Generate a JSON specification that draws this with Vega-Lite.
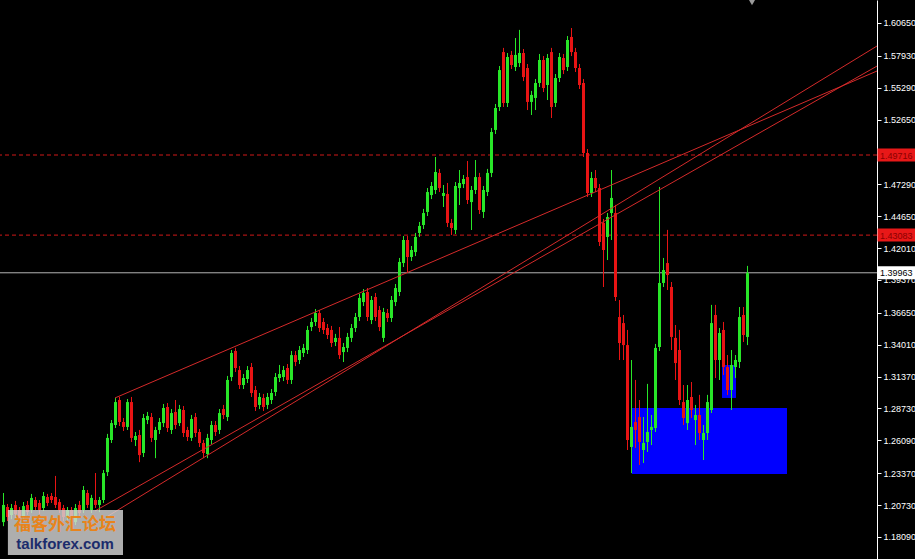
{
"$schema": "https://vega.github.io/schema/vega-lite/v6.json",
"width": 877, "height": 559,
"autosize": {"type": "none"},
"padding": {"left": 0, "top": 0, "right": 38, "bottom": 0},
"background": "#000000",
"config": {"view": {"stroke": null}},
"resolve": {"axis": {"x": "independent", "y": "independent"}},
"datasets": {
"candles": [
{"t":0,"o":1.1932,"h":1.2173,"l":1.1899,"c":1.2074},
{"t":1,"o":1.2057,"h":1.2082,"l":1.1941,"c":1.1974},
{"t":2,"o":1.1991,"h":1.2082,"l":1.1957,"c":1.2049},
{"t":3,"o":1.2074,"h":1.2107,"l":1.1966,"c":1.1999},
{"t":4,"o":1.2032,"h":1.2057,"l":1.1932,"c":1.1966},
{"t":5,"o":1.1982,"h":1.2098,"l":1.1949,"c":1.2065},
{"t":6,"o":1.2074,"h":1.2107,"l":1.1991,"c":1.2015},
{"t":7,"o":1.2032,"h":1.2165,"l":1.2007,"c":1.2132},
{"t":8,"o":1.2115,"h":1.2140,"l":1.2032,"c":1.2057},
{"t":9,"o":1.2090,"h":1.2115,"l":1.1999,"c":1.2032},
{"t":10,"o":1.2049,"h":1.2181,"l":1.2024,"c":1.2148},
{"t":11,"o":1.2140,"h":1.2165,"l":1.2065,"c":1.2090},
{"t":12,"o":1.2148,"h":1.2173,"l":1.2090,"c":1.2115},
{"t":13,"o":1.2140,"h":1.2314,"l":1.2049,"c":1.2074},
{"t":14,"o":1.2098,"h":1.2123,"l":1.2007,"c":1.2032},
{"t":15,"o":1.2049,"h":1.2074,"l":1.1941,"c":1.1974},
{"t":16,"o":1.1974,"h":1.2057,"l":1.1949,"c":1.2032},
{"t":17,"o":1.2032,"h":1.2057,"l":1.1916,"c":1.1949},
{"t":18,"o":1.1932,"h":1.2082,"l":1.1908,"c":1.2049},
{"t":19,"o":1.2074,"h":1.2107,"l":1.1982,"c":1.2007},
{"t":20,"o":1.2032,"h":1.2231,"l":1.2007,"c":1.2198},
{"t":21,"o":1.2173,"h":1.2198,"l":1.2049,"c":1.2074},
{"t":22,"o":1.2032,"h":1.2157,"l":1.2007,"c":1.2132},
{"t":23,"o":1.2115,"h":1.2338,"l":1.2049,"c":1.2074},
{"t":24,"o":1.2074,"h":1.2140,"l":1.2015,"c":1.2115},
{"t":25,"o":1.2115,"h":1.2363,"l":1.2090,"c":1.2338},
{"t":26,"o":1.2346,"h":1.2662,"l":1.2314,"c":1.2629},
{"t":27,"o":1.2612,"h":1.2777,"l":1.2587,"c":1.2752},
{"t":28,"o":1.2736,"h":1.2960,"l":1.2711,"c":1.2926},
{"t":29,"o":1.2943,"h":1.2968,"l":1.2728,"c":1.2761},
{"t":30,"o":1.2761,"h":1.2794,"l":1.2687,"c":1.2720},
{"t":31,"o":1.2720,"h":1.2951,"l":1.2695,"c":1.2926},
{"t":32,"o":1.2926,"h":1.2968,"l":1.2595,"c":1.2629},
{"t":33,"o":1.2612,"h":1.2678,"l":1.2562,"c":1.2645},
{"t":34,"o":1.2653,"h":1.2695,"l":1.2429,"c":1.2487},
{"t":35,"o":1.2504,"h":1.2827,"l":1.2471,"c":1.2794},
{"t":36,"o":1.2777,"h":1.2844,"l":1.2744,"c":1.2811},
{"t":37,"o":1.2802,"h":1.2835,"l":1.2595,"c":1.2629},
{"t":38,"o":1.2612,"h":1.2720,"l":1.2462,"c":1.2695},
{"t":39,"o":1.2695,"h":1.2794,"l":1.2662,"c":1.2761},
{"t":40,"o":1.2752,"h":1.2910,"l":1.2720,"c":1.2877},
{"t":41,"o":1.2885,"h":1.2918,"l":1.2678,"c":1.2711},
{"t":42,"o":1.2695,"h":1.2868,"l":1.2662,"c":1.2835},
{"t":43,"o":1.2844,"h":1.2943,"l":1.2703,"c":1.2736},
{"t":44,"o":1.2752,"h":1.2902,"l":1.2728,"c":1.2868},
{"t":45,"o":1.2860,"h":1.2893,"l":1.2637,"c":1.2670},
{"t":46,"o":1.2695,"h":1.2720,"l":1.2604,"c":1.2637},
{"t":47,"o":1.2629,"h":1.2819,"l":1.2604,"c":1.2786},
{"t":48,"o":1.2802,"h":1.2835,"l":1.2637,"c":1.2670},
{"t":49,"o":1.2678,"h":1.2703,"l":1.2554,"c":1.2587},
{"t":50,"o":1.2587,"h":1.2612,"l":1.2462,"c":1.2504},
{"t":51,"o":1.2496,"h":1.2662,"l":1.2462,"c":1.2629},
{"t":52,"o":1.2612,"h":1.2769,"l":1.2579,"c":1.2736},
{"t":53,"o":1.2736,"h":1.2769,"l":1.2645,"c":1.2678},
{"t":54,"o":1.2695,"h":1.2868,"l":1.2662,"c":1.2835},
{"t":55,"o":1.2868,"h":1.2902,"l":1.2786,"c":1.2819},
{"t":56,"o":1.2802,"h":1.3142,"l":1.2769,"c":1.3109},
{"t":57,"o":1.3133,"h":1.3357,"l":1.3100,"c":1.3332},
{"t":58,"o":1.3349,"h":1.3374,"l":1.3175,"c":1.3208},
{"t":59,"o":1.3191,"h":1.3224,"l":1.3034,"c":1.3067},
{"t":60,"o":1.3067,"h":1.3158,"l":1.3034,"c":1.3125},
{"t":61,"o":1.3117,"h":1.3224,"l":1.3084,"c":1.3191},
{"t":62,"o":1.3216,"h":1.3249,"l":1.2968,"c":1.3001},
{"t":63,"o":1.3026,"h":1.3059,"l":1.2852,"c":1.2885},
{"t":64,"o":1.2902,"h":1.3001,"l":1.2868,"c":1.2968},
{"t":65,"o":1.2960,"h":1.2993,"l":1.2852,"c":1.2885},
{"t":66,"o":1.2902,"h":1.3001,"l":1.2868,"c":1.2968},
{"t":67,"o":1.2943,"h":1.3034,"l":1.2910,"c":1.3001},
{"t":68,"o":1.3009,"h":1.3166,"l":1.2976,"c":1.3133},
{"t":69,"o":1.3125,"h":1.3233,"l":1.3092,"c":1.3158},
{"t":70,"o":1.3133,"h":1.3224,"l":1.3100,"c":1.3191},
{"t":71,"o":1.3208,"h":1.3241,"l":1.3076,"c":1.3109},
{"t":72,"o":1.3109,"h":1.3349,"l":1.3076,"c":1.3315},
{"t":73,"o":1.3315,"h":1.3349,"l":1.3224,"c":1.3258},
{"t":74,"o":1.3274,"h":1.3390,"l":1.3241,"c":1.3357},
{"t":75,"o":1.3332,"h":1.3407,"l":1.3299,"c":1.3374},
{"t":76,"o":1.3357,"h":1.3556,"l":1.3324,"c":1.3523},
{"t":77,"o":1.3547,"h":1.3622,"l":1.3514,"c":1.3589},
{"t":78,"o":1.3589,"h":1.3696,"l":1.3556,"c":1.3663},
{"t":79,"o":1.3663,"h":1.3688,"l":1.3506,"c":1.3539},
{"t":80,"o":1.3589,"h":1.3622,"l":1.3490,"c":1.3523},
{"t":81,"o":1.3539,"h":1.3572,"l":1.3448,"c":1.3481},
{"t":82,"o":1.3523,"h":1.3556,"l":1.3382,"c":1.3415},
{"t":83,"o":1.3423,"h":1.3490,"l":1.3390,"c":1.3457},
{"t":84,"o":1.3457,"h":1.3547,"l":1.3283,"c":1.3315},
{"t":85,"o":1.3340,"h":1.3415,"l":1.3258,"c":1.3382},
{"t":86,"o":1.3374,"h":1.3498,"l":1.3340,"c":1.3465},
{"t":87,"o":1.3457,"h":1.3572,"l":1.3423,"c":1.3539},
{"t":88,"o":1.3539,"h":1.3663,"l":1.3506,"c":1.3630},
{"t":89,"o":1.3630,"h":1.3821,"l":1.3597,"c":1.3788},
{"t":90,"o":1.3754,"h":1.3862,"l":1.3721,"c":1.3829},
{"t":91,"o":1.3837,"h":1.3870,"l":1.3597,"c":1.3630},
{"t":92,"o":1.3605,"h":1.3804,"l":1.3572,"c":1.3771},
{"t":93,"o":1.3796,"h":1.3829,"l":1.3597,"c":1.3630},
{"t":94,"o":1.3688,"h":1.3721,"l":1.3514,"c":1.3547},
{"t":95,"o":1.3457,"h":1.3705,"l":1.3423,"c":1.3672},
{"t":96,"o":1.3663,"h":1.3696,"l":1.3589,"c":1.3622},
{"t":97,"o":1.3622,"h":1.3804,"l":1.3589,"c":1.3771},
{"t":98,"o":1.3754,"h":1.3903,"l":1.3721,"c":1.3870},
{"t":99,"o":1.3837,"h":1.4119,"l":1.3804,"c":1.4086},
{"t":100,"o":1.4077,"h":1.4301,"l":1.4044,"c":1.4268},
{"t":101,"o":1.4268,"h":1.4301,"l":1.4003,"c":1.4127},
{"t":102,"o":1.4127,"h":1.4218,"l":1.4094,"c":1.4185},
{"t":103,"o":1.4168,"h":1.4326,"l":1.4135,"c":1.4293},
{"t":104,"o":1.4326,"h":1.4417,"l":1.4293,"c":1.4384},
{"t":105,"o":1.4392,"h":1.4525,"l":1.4359,"c":1.4491},
{"t":106,"o":1.4500,"h":1.4698,"l":1.4467,"c":1.4665},
{"t":107,"o":1.4640,"h":1.4748,"l":1.4607,"c":1.4715},
{"t":108,"o":1.4682,"h":1.4955,"l":1.4649,"c":1.4831},
{"t":109,"o":1.4823,"h":1.4856,"l":1.4665,"c":1.4698},
{"t":110,"o":1.4632,"h":1.4723,"l":1.4541,"c":1.4657},
{"t":111,"o":1.4649,"h":1.4740,"l":1.4376,"c":1.4409},
{"t":112,"o":1.4409,"h":1.4442,"l":1.4309,"c":1.4367},
{"t":113,"o":1.4351,"h":1.4748,"l":1.4318,"c":1.4715},
{"t":114,"o":1.4698,"h":1.4847,"l":1.4558,"c":1.4740},
{"t":115,"o":1.4731,"h":1.4806,"l":1.4698,"c":1.4773},
{"t":116,"o":1.4789,"h":1.4922,"l":1.4566,"c":1.4599},
{"t":117,"o":1.4582,"h":1.4715,"l":1.4351,"c":1.4682},
{"t":118,"o":1.4682,"h":1.4930,"l":1.4649,"c":1.4789},
{"t":119,"o":1.4789,"h":1.4823,"l":1.4483,"c":1.4516},
{"t":120,"o":1.4500,"h":1.4715,"l":1.4450,"c":1.4682},
{"t":121,"o":1.4665,"h":1.4856,"l":1.4632,"c":1.4823},
{"t":122,"o":1.4823,"h":1.5195,"l":1.4789,"c":1.5162},
{"t":123,"o":1.5179,"h":1.5394,"l":1.5146,"c":1.5361},
{"t":124,"o":1.5369,"h":1.5708,"l":1.5336,"c":1.5675},
{"t":125,"o":1.5824,"h":1.5858,"l":1.5369,"c":1.5402},
{"t":126,"o":1.5402,"h":1.5816,"l":1.5369,"c":1.5783},
{"t":127,"o":1.5800,"h":1.5833,"l":1.5684,"c":1.5717},
{"t":128,"o":1.5700,"h":1.5940,"l":1.5667,"c":1.5800},
{"t":129,"o":1.5733,"h":1.6007,"l":1.5700,"c":1.5816},
{"t":130,"o":1.5816,"h":1.5849,"l":1.5584,"c":1.5617},
{"t":131,"o":1.5692,"h":1.5725,"l":1.5344,"c":1.5411},
{"t":132,"o":1.5411,"h":1.5502,"l":1.5303,"c":1.5469},
{"t":133,"o":1.5444,"h":1.5601,"l":1.5344,"c":1.5568},
{"t":134,"o":1.5568,"h":1.5808,"l":1.5535,"c":1.5758},
{"t":135,"o":1.5758,"h":1.5791,"l":1.5493,"c":1.5526},
{"t":136,"o":1.5551,"h":1.5808,"l":1.5427,"c":1.5775},
{"t":137,"o":1.5824,"h":1.5858,"l":1.5278,"c":1.5369},
{"t":138,"o":1.5402,"h":1.5642,"l":1.5369,"c":1.5609},
{"t":139,"o":1.5609,"h":1.5816,"l":1.5576,"c":1.5783},
{"t":140,"o":1.5775,"h":1.5808,"l":1.5642,"c":1.5675},
{"t":141,"o":1.5700,"h":1.5957,"l":1.5667,"c":1.5924},
{"t":142,"o":1.5949,"h":1.6023,"l":1.5791,"c":1.5824},
{"t":143,"o":1.5824,"h":1.5858,"l":1.5659,"c":1.5692},
{"t":144,"o":1.5692,"h":1.5725,"l":1.5518,"c":1.5551},
{"t":145,"o":1.5568,"h":1.5601,"l":1.4955,"c":1.4988},
{"t":146,"o":1.4988,"h":1.5021,"l":1.4624,"c":1.4657},
{"t":147,"o":1.4657,"h":1.4831,"l":1.4624,"c":1.4781},
{"t":148,"o":1.4781,"h":1.4847,"l":1.4665,"c":1.4698},
{"t":149,"o":1.4698,"h":1.4731,"l":1.4218,"c":1.4251},
{"t":150,"o":1.4409,"h":1.4442,"l":1.3879,"c":1.4185},
{"t":151,"o":1.4293,"h":1.4491,"l":1.4102,"c":1.4458},
{"t":152,"o":1.4491,"h":1.4847,"l":1.4268,"c":1.4616},
{"t":153,"o":1.4491,"h":1.4558,"l":1.3763,"c":1.3796},
{"t":154,"o":1.3630,"h":1.3771,"l":1.3274,"c":1.3415},
{"t":155,"o":1.3580,"h":1.3647,"l":1.3274,"c":1.3398},
{"t":156,"o":1.3398,"h":1.3523,"l":1.2529,"c":1.2612},
{"t":157,"o":1.2554,"h":1.3274,"l":1.2338,"c":1.2720},
{"t":158,"o":1.2761,"h":1.3109,"l":1.2546,"c":1.2695},
{"t":159,"o":1.2802,"h":1.2943,"l":1.2405,"c":1.2595},
{"t":160,"o":1.2529,"h":1.2802,"l":1.2421,"c":1.2587},
{"t":161,"o":1.2595,"h":1.3076,"l":1.2513,"c":1.2678},
{"t":162,"o":1.2695,"h":1.2819,"l":1.2570,"c":1.2720},
{"t":163,"o":1.2711,"h":1.3407,"l":1.2678,"c":1.3374},
{"t":164,"o":1.3382,"h":1.4707,"l":1.3349,"c":1.3912},
{"t":165,"o":1.3912,"h":1.4119,"l":1.3879,"c":1.4019},
{"t":166,"o":1.4077,"h":1.4351,"l":1.3854,"c":1.3978},
{"t":167,"o":1.3879,"h":1.3920,"l":1.3357,"c":1.3465},
{"t":168,"o":1.3457,"h":1.3564,"l":1.3109,"c":1.3249},
{"t":169,"o":1.3357,"h":1.3523,"l":1.2902,"c":1.2943},
{"t":170,"o":1.2926,"h":1.3067,"l":1.2736,"c":1.2794},
{"t":171,"o":1.2752,"h":1.3067,"l":1.2695,"c":1.2943},
{"t":172,"o":1.2968,"h":1.3092,"l":1.2794,"c":1.2860},
{"t":173,"o":1.2777,"h":1.2902,"l":1.2570,"c":1.2819},
{"t":174,"o":1.2819,"h":1.2985,"l":1.2612,"c":1.2670},
{"t":175,"o":1.2612,"h":1.2736,"l":1.2446,"c":1.2670},
{"t":176,"o":1.2670,"h":1.2985,"l":1.2612,"c":1.2926},
{"t":177,"o":1.2860,"h":1.3730,"l":1.2835,"c":1.3580},
{"t":178,"o":1.3647,"h":1.3730,"l":1.3125,"c":1.3274},
{"t":179,"o":1.3274,"h":1.3539,"l":1.3109,"c":1.3498},
{"t":180,"o":1.3523,"h":1.3589,"l":1.3150,"c":1.3216},
{"t":181,"o":1.3216,"h":1.3315,"l":1.2985,"c":1.3026},
{"t":182,"o":1.3026,"h":1.3357,"l":1.2860,"c":1.3233},
{"t":183,"o":1.3216,"h":1.3315,"l":1.3125,"c":1.3274},
{"t":184,"o":1.3258,"h":1.3713,"l":1.3208,"c":1.3630},
{"t":185,"o":1.3647,"h":1.3713,"l":1.3423,"c":1.3481},
{"t":186,"o":1.3465,"h":1.4053,"l":1.3398,"c":1.3995}
],
"trendlines": [
{"name":"upper","t1":27.875,"p1":1.2960,"t2":218.375,"p2":1.5667},
{"name":"lower1","t1":22.875,"p1":1.2024,"t2":218.375,"p2":1.5708},
{"name":"lower2","t1":26.125,"p1":1.1982,"t2":218.375,"p2":1.5874}
],
"zones": [
{"name":"demand","t1":157.125,"t2":195.875,"p1":1.2877,"p2":1.2330},
{"name":"small","t1":179.625,"t2":183.125,"p1":1.3233,"p2":1.2960}
],
"levels": [
{"v":1.49716,"kind":"level"},
{"v":1.43083,"kind":"level"},
{"v":1.39963,"kind":"bid"}
]
},
"layer": [
{
"data": {"name": "candles"},
"mark": {"type": "rule", "strokeWidth": 1},
"encoding": {
"x": {"field": "t", "type": "quantitative", "scale": {"domain": [-0.875, 218.375], "nice": false, "zero": false, "padding": 0}, "axis": null},
"y": {"field": "l", "type": "quantitative", "title": null,
"scale": {"domain": [1.16265, 1.6255], "nice": false, "zero": false, "padding": 0},
"axis": {"orient": "right", "values": [1.6065, 1.5793, 1.5529, 1.5265, 1.4729, 1.4465, 1.4201, 1.3937, 1.3665, 1.3401, 1.3137, 1.2873, 1.2609, 1.2337, 1.2073, 1.1809],
"format": ".5f", "title": null, "grid": false, "domainColor": "#ffffff", "domainWidth": 1, "tickColor": "#ffffff", "tickSize": 4, "tickWidth": 1,
"labelColor": "#ffffff", "labelFont": "Liberation Sans", "labelFontSize": 9, "labelPadding": 2, "labelFlush": false, "labelOverlap": false}},
"y2": {"field": "h"},
"color": {"condition": {"test": "datum.c >= datum.o", "value": "#28e628"}, "value": "#e81414"}
}
},
{
"data": {"name": "zones"},
"mark": {"type": "rect", "color": "#0000ff"},
"encoding": {
"x": {"field": "t1", "type": "quantitative", "axis": null},
"x2": {"field": "t2"},
"y": {"field": "p1", "type": "quantitative", "axis": null},
"y2": {"field": "p2"}
}
},
{
"data": {"name": "levels"},
"transform": [{"filter": "datum.kind == 'level'"}],
"mark": {"type": "rule", "color": "#d01818", "strokeWidth": 1, "strokeDash": [4, 3]},
"encoding": {
"y": {"field": "v", "type": "quantitative", "axis": null}
}
},
{
"data": {"name": "levels"},
"transform": [{"filter": "datum.kind == 'bid'"}],
"mark": {"type": "rule", "color": "#b4b4b4", "strokeWidth": 1},
"encoding": {
"y": {"field": "v", "type": "quantitative", "axis": null}
}
},
{
"data": {"name": "candles"},
"mark": {"type": "rule", "strokeWidth": 1},
"encoding": {
"x": {"field": "t", "type": "quantitative", "axis": null},
"y": {"field": "l", "type": "quantitative", "axis": null},
"y2": {"field": "h"},
"color": {"condition": {"test": "datum.c >= datum.o", "value": "#28e628"}, "value": "#e81414"}
}
},
{
"data": {"name": "candles"},
"mark": {"type": "bar", "width": 3, "orient": "vertical"},
"encoding": {
"x": {"field": "t", "type": "quantitative", "axis": null},
"y": {"field": "o", "type": "quantitative", "axis": null},
"y2": {"field": "c"},
"color": {"condition": {"test": "datum.c >= datum.o", "value": "#28e628"}, "value": "#e81414"}
}
},
{
"data": {"name": "trendlines"},
"mark": {"type": "rule", "color": "#d42a2a", "strokeWidth": 1},
"encoding": {
"x": {"field": "t1", "type": "quantitative", "axis": null},
"x2": {"field": "t2"},
"y": {"field": "p1", "type": "quantitative", "axis": null},
"y2": {"field": "p2"}
}
},
{
"data": {"name": "levels"},
"mark": {"type": "bar", "orient": "horizontal", "height": 13, "clip": false},
"encoding": {
"x": {"datum": 218.5, "type": "quantitative", "axis": null},
"x2": {"datum": 228},
"y": {"field": "v", "type": "quantitative", "axis": null},
"color": {"condition": {"test": "datum.kind == 'bid'", "value": "#ffffff"}, "value": "#e81818"}
}
},
{
"data": {"name": "levels"},
"mark": {"type": "text", "align": "left", "baseline": "middle", "font": "Liberation Sans", "fontSize": 9, "dx": 3, "dy": 0.5},
"encoding": {
"x": {"datum": 218.375, "type": "quantitative", "axis": null},
"y": {"field": "v", "type": "quantitative", "axis": null},
"text": {"field": "v", "type": "quantitative", "format": ".5f"},
"color": {"condition": {"test": "datum.kind == 'bid'", "value": "#000000"}, "value": "#8a0000"}
}
},
{
"data": {"values": [{"label": "marker"}]},
"mark": {"type": "point", "shape": "triangle-down", "size": 45, "filled": true, "color": "#9a9a9a", "opacity": 1},
"encoding": {
"x": {"datum": 187.125, "type": "quantitative", "axis": null},
"y": {"datum": 1.6236, "type": "quantitative", "axis": null}
}
},
{
"data": {"values": [{"label": "talkforex"}]},
"mark": {"type": "rect", "color": "#d4d4d4", "opacity": 0.82},
"encoding": {
"x": {"datum": 1.1, "type": "quantitative", "axis": null},
"x2": {"datum": 29.875},
"y": {"datum": 1.2032, "type": "quantitative", "axis": null},
"y2": {"datum": 1.1660}
}
},
{
"data": {"values": [{"label": "福客外汇论坛"}]},
"mark": {"type": "text", "align": "center", "baseline": "middle", "font": "Noto Sans CJK SC", "fontSize": 17, "fontWeight": "bold", "color": "#e8841c", "letterSpacing": 1},
"encoding": {
"x": {"datum": 15.4, "type": "quantitative", "axis": null},
"y": {"datum": 1.1908, "type": "quantitative", "axis": null},
"text": {"field": "label"}
}
},
{
"data": {"values": [{"label": "talkforex.com"}]},
"mark": {"type": "text", "align": "center", "baseline": "middle", "font": "Liberation Sans", "fontSize": 15, "fontWeight": "bold", "color": "#1c2c6c"},
"encoding": {
"x": {"datum": 15.4, "type": "quantitative", "axis": null},
"y": {"datum": 1.1750, "type": "quantitative", "axis": null},
"text": {"field": "label"}
}
}
]
}
